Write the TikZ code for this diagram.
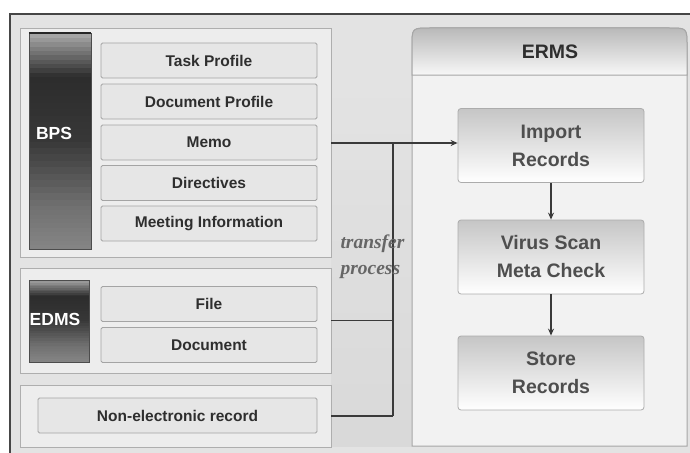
\documentclass[tikz,border=0pt]{standalone}
\usepackage{fontspec}
\setmainfont{Liberation Sans}
\newfontfamily\serifit{Liberation Serif}
\usetikzlibrary{arrows.meta,calc}
\definecolor{bgc}{HTML}{E3E3E3}
\definecolor{panelc}{HTML}{EDEDED}
\definecolor{panelline}{HTML}{AEAEAE}
\definecolor{itemc}{HTML}{E6E6E6}
\definecolor{itemline}{HTML}{A4A4A4}
\definecolor{txtc}{HTML}{2E2E2E}
\definecolor{proctxt}{HTML}{4E4E4E}
\definecolor{linec}{HTML}{3A3A3A}
\definecolor{ermsc}{HTML}{F2F2F2}
\definecolor{bA}{HTML}{858585}
\definecolor{bB}{HTML}{707070}
\definecolor{bC}{HTML}{383838}
\definecolor{bD}{HTML}{2C2C2C}
\definecolor{bF}{HTML}{ABABAB}
\newcommand\barbands[5]{%
  \foreach \k in {0,...,9}{%
    \pgfmathsetmacro\fa{#2+(#3-#2)*\k/10}%
    \pgfmathsetmacro\fb{min(1,#2+(#3-#2)*(\k+1)/10+0.004)}%
    \pgfmathtruncatemacro\mx{10*\k+5}%
    \fill[#5!\mx!#4] ($(#1.north west)!\fa!(#1.south west)$) rectangle ($(#1.north east)!\fb!(#1.south east)$);
  }}
\newcommand\darkbarfill[1]{%
  \barbands{#1}{0}{0.2}{bF}{bD}
  \barbands{#1}{0.2}{0.5}{bD}{bC}
  \barbands{#1}{0.5}{0.8}{bC}{bB}
  \barbands{#1}{0.8}{1}{bB}{bA}
  \draw[gray!60!black, line width=0.6pt] (#1.north west) rectangle (#1.south east);}
\tikzset{
  panel/.style={draw=panelline, fill=panelc, line width=0.8pt, inner sep=0pt},
  itembox/.style={draw=itemline, fill=itemc, line width=0.8pt, rounded corners=1.5pt,
    minimum width=216pt, minimum height=35pt, inner sep=0pt, text=txtc,
    font=\bfseries\fontsize{15.5}{18}\selectfont},
  barframe/.style={inner sep=0pt},
  barlabel/.style={text=white, font=\bfseries\fontsize{17.5}{20}\selectfont},
  procbox/.style={draw=gray!65, line width=0.8pt, rounded corners=3pt, top color=gray!45,
    bottom color=white, minimum width=186pt, minimum height=74pt, inner sep=0pt,
    align=center, text=proctxt, font=\bfseries\fontsize{19.5}{28}\selectfont},
  conn/.style={draw=linec, line width=1.8pt},
  arr/.style={draw=linec, line width=1.2pt, -{Stealth[length=7pt,width=6pt]}},
}
\begin{document}
\begin{tikzpicture}[x=1pt,y=-1pt]
\useasboundingbox (0,0) rectangle (690,452);
% outer frame
\fill[white] (0,0) rectangle (690,452);
\fill[bgc] (10,14) rectangle (692,454);
\draw[gray!55!black, line width=2pt] (10,454) -- (10,14) -- (692,14);
\fill[top color=bgc, bottom color=gray!30] (331,80) rectangle (412,446);
% BPS panel
\node[panel, minimum width=311pt, minimum height=229pt] (bps) at (175.5,142.5) {};
\node[barframe, minimum width=62pt, minimum height=215pt] (bpsbar) at (60,141.5) {};
\darkbarfill{bpsbar}
\draw[black!85, line width=2.5pt] ([yshift=1pt]bpsbar.north west) -- ([yshift=1pt]bpsbar.north east);
\node[barlabel] (bpslabel) at (54,133) {BPS};
\node[itembox] (task) at (209,60.5) {Task Profile};
\node[itembox] (docprof) at (209,101.5) {Document Profile};
\node[itembox] (memo) at (209,142.5) {Memo};
\node[itembox] (direct) at (209,183) {Directives};
\node[itembox] (meeting) at (209,223.5) {Meeting Information};
% EDMS panel
\node[panel, minimum width=311pt, minimum height=105pt] (edms) at (175.5,320.5) {};
\node[barframe, minimum width=60pt, minimum height=82pt] (edmsbar) at (59,321) {};
\darkbarfill{edmsbar}
\node[barlabel] (edmslabel) at (55,319) {EDMS};
\node[itembox] (file) at (209,304) {File};
\node[itembox] (doc) at (209,345) {Document};
% Non-electronic panel
\node[panel, minimum width=311pt, minimum height=62pt] (nep) at (175.5,416) {};
\node[itembox, minimum width=279pt] (nonel) at (177.5,415.5) {Non-electronic record};
% ERMS panel
\path[fill=ermsc, draw=gray!70, line width=1pt]
  (412,446) -- (412,46) .. controls (412,28) .. (430,28) -- (669,28)
  .. controls (687,28) .. (687,46) -- (687,446) -- cycle;
\path[top color=gray!55, bottom color=gray!6, draw=gray!70, line width=1pt]
  (412,75) -- (412,46) .. controls (412,28) .. (430,28) -- (669,28)
  .. controls (687,28) .. (687,46) -- (687,75) -- cycle;
\node[text=txtc, font=\bfseries\fontsize{19.5}{22}\selectfont] (ermstitle) at (550,52) {ERMS};
\node[procbox] (import) at (551,145.5) {Import\\Records};
\node[procbox] (virus) at (551,257) {Virus Scan\\Meta Check};
\node[procbox] (store) at (551,373) {Store\\Records};
% connectors
\coordinate (jtop) at (393,143);
\draw[arr] (memo.east -| bps.east) ++(0,0.5) coordinate (memoout) -- (memoout -| import.west);
\draw[conn] (jtop) -- (jtop |- nep.east);
\draw[conn] (edms.east) -- (edms.east -| jtop);
\draw[conn] (nep.east) -- (nep.east -| jtop);
\draw[arr] (import) -- (virus);
\draw[arr] (virus) -- (store);
% transfer process label
\node[text=gray!80!black, font=\serifit\bfseries\itshape\fontsize{19.5}{26}\selectfont, align=left, anchor=west]
  (tp) at (337,257) {transfer\\process};
\end{tikzpicture}
\end{document}
